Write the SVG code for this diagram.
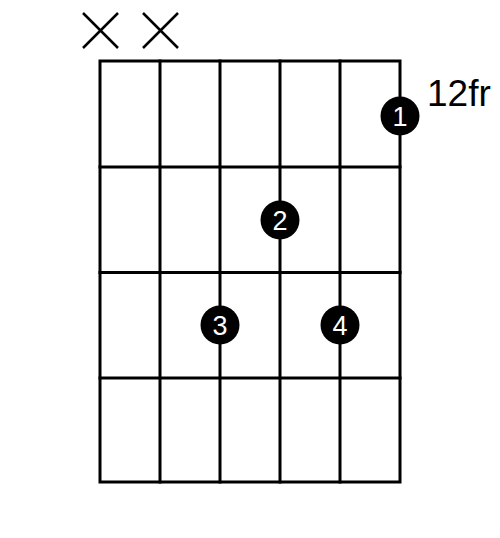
<svg xmlns="http://www.w3.org/2000/svg" width="500" height="538" viewBox="0 0 500 538">
<style>
.grid{stroke:#000;stroke-width:3;fill:none;stroke-linecap:square}
.x{stroke:#000;stroke-width:2.5}
.dot{fill:#000}
.num{fill:#fff;font-family:"Liberation Sans",Arial,sans-serif;font-size:27px;text-anchor:middle}
.fr{fill:#000;font-family:"Liberation Sans",Arial,sans-serif;font-size:37px}
</style>
<rect width="500" height="538" fill="#fff"/>
<g id="grid" class="grid">
<rect x="100" y="61" width="300" height="421"/>
<line x1="160" y1="61" x2="160" y2="482"/>
<line x1="220" y1="61" x2="220" y2="482"/>
<line x1="280" y1="61" x2="280" y2="482"/>
<line x1="340" y1="61" x2="340" y2="482"/>
<line x1="100" y1="167" x2="400" y2="167"/>
<line x1="100" y1="272.5" x2="400" y2="272.5"/>
<line x1="100" y1="378" x2="400" y2="378"/>
</g>
<g id="mute1" class="x"><line x1="83" y1="13" x2="118" y2="48"/><line x1="118" y1="13" x2="83" y2="48"/></g>
<g id="mute2" class="x"><line x1="143" y1="13" x2="178" y2="48"/><line x1="178" y1="13" x2="143" y2="48"/></g>
<text id="fret" class="fr" x="427" y="106">12fr</text>
<g id="f1"><circle class="dot" cx="400" cy="116" r="19.5"/><text class="num" x="400" y="126">1</text></g>
<g id="f2"><circle class="dot" cx="280" cy="220" r="19.5"/><text class="num" x="280" y="230">2</text></g>
<g id="f3"><circle class="dot" cx="220" cy="325" r="19.5"/><text class="num" x="220" y="335">3</text></g>
<g id="f4"><circle class="dot" cx="340" cy="325" r="19.5"/><text class="num" x="340" y="335">4</text></g>
</svg>
